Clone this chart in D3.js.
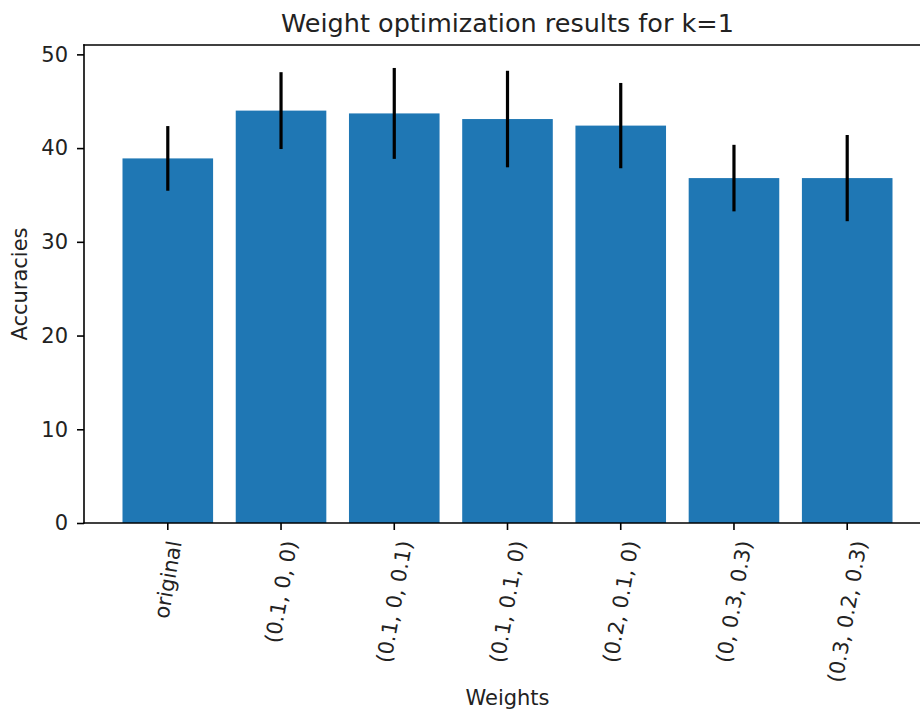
<!DOCTYPE html>
<html>
<head>
<meta charset="utf-8">
<script src="https://cdn.jsdelivr.net/npm/d3@7"></script>
<style>
  body { margin: 0; background: #fff; }
  svg { display: block; font-family: "DejaVu Sans", sans-serif; }
</style>
</head>
<body>
<svg id="chart"></svg>
<script>
const categories = ['original', '(0.1, 0, 0)', '(0.1, 0, 0.1)', '(0.1, 0.1, 0)', '(0.2, 0.1, 0)', '(0, 0.3, 0.3)', '(0.3, 0.2, 0.3)'];
const accuracies = [38.9, 44.0, 43.7, 43.1, 42.4, 36.8, 36.8];
const errors = [3.45, 4.1, 4.85, 5.15, 4.55, 3.55, 4.6];
const yTicks = [0, 10, 20, 30, 40, 50];

const W = 920, H = 715;
const svg = d3.select('#chart').attr('width', W).attr('height', H);

// axes box (right edge runs past the picture, as in the original crop)
const plotLeft = 84, plotRight = 931, plotTop = 45, plotBottom = 523;
const fs = 21;

const x = d3.scaleLinear().domain([-0.74, categories.length - 1 + 0.74]).range([plotLeft, plotRight]);
const y = d3.scaleLinear().domain([0, 51.0]).range([plotBottom, plotTop]);
const barW = x(0.8) - x(0);

const g = svg.append('g');

g.selectAll('rect.bar')
  .data(accuracies)
  .enter()
  .append('rect')
  .attr('class', 'bar')
  .attr('x', (d, i) => x(i) - barW / 2)
  .attr('y', d => y(d))
  .attr('width', barW)
  .attr('height', d => y(0) - y(d))
  .attr('fill', '#1f77b4');

g.selectAll('line.err')
  .data(accuracies)
  .enter()
  .append('line')
  .attr('class', 'err')
  .attr('x1', (d, i) => x(i))
  .attr('x2', (d, i) => x(i))
  .attr('y1', (d, i) => y(d + errors[i]))
  .attr('y2', (d, i) => y(d - errors[i]))
  .attr('stroke', '#000')
  .attr('stroke-width', 3.2);

// spines
[[plotLeft, plotTop, plotLeft, plotBottom], [plotLeft, plotBottom, plotRight, plotBottom],
 [plotLeft, plotTop, plotRight, plotTop], [plotRight, plotTop, plotRight, plotBottom]]
  .forEach(([x1, y1, x2, y2]) => {
    g.append('line').attr('x1', x1).attr('y1', y1).attr('x2', x2).attr('y2', y2)
      .attr('stroke', '#000').attr('stroke-width', 1.6)
      .attr('stroke-linecap', 'square');
  });

// y axis
const yAxis = g.append('g')
  .attr('transform', `translate(${plotLeft},0)`)
  .call(d3.axisLeft(y).tickValues(yTicks).tickSize(7).tickPadding(9));
yAxis.select('.domain').remove();
yAxis.selectAll('.tick line').attr('stroke', '#000').attr('stroke-width', 1.6);
yAxis.selectAll('.tick text').attr('font-size', fs).attr('fill', '#222')
  .attr('font-family', 'DejaVu Sans');

// x ticks and rotated labels
const xt = g.selectAll('g.xtick')
  .data(categories)
  .enter()
  .append('g')
  .attr('class', 'xtick');
xt.append('line')
  .attr('x1', (d, i) => x(i)).attr('x2', (d, i) => x(i))
  .attr('y1', plotBottom).attr('y2', plotBottom + 7)
  .attr('stroke', '#000').attr('stroke-width', 1.6);
const rot = 80 * Math.PI / 180;
xt.append('text')
  .attr('text-anchor', 'end')
  .attr('dy', '0.35em')
  .attr('font-size', fs)
  .attr('fill', '#222')
  .text(d => d)
  .each(function (d, i) {
    const L = this.getComputedTextLength();
    const cx = x(i) + L * Math.cos(rot) / 2;
    d3.select(this).attr('transform', `translate(${cx},${plotBottom + 18}) rotate(-80)`);
  });

// title and axis labels
svg.append('text')
  .attr('x', (plotLeft + plotRight) / 2).attr('y', 32)
  .attr('text-anchor', 'middle')
  .attr('font-size', 25.5)
  .attr('fill', '#222')
  .text('Weight optimization results for k=1');

svg.append('text')
  .attr('x', (plotLeft + plotRight) / 2).attr('y', 705)
  .attr('text-anchor', 'middle')
  .attr('font-size', fs)
  .attr('fill', '#222')
  .text('Weights');

svg.append('text')
  .attr('transform', `translate(27,${(plotTop + plotBottom) / 2}) rotate(-90)`)
  .attr('text-anchor', 'middle')
  .attr('font-size', fs)
  .attr('fill', '#222')
  .text('Accuracies');
</script>
</body>
</html>
